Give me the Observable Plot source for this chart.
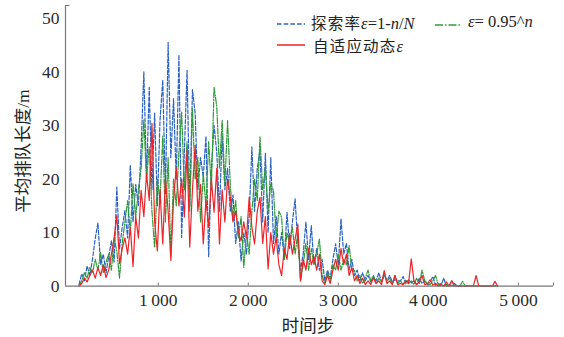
<!DOCTYPE html>
<html><head><meta charset="utf-8">
<script src="https://cdn.jsdelivr.net/npm/d3@7"></script>
<script src="https://cdn.jsdelivr.net/npm/@observablehq/plot@0.6"></script>
<style>
html,body{margin:0;padding:0;background:#fff;}
#wrap{position:relative;width:564px;height:337px;overflow:hidden;font-family:"Liberation Serif","Tinos","Times New Roman","DejaVu Serif",serif;}
#wrap svg, #wrap svg text{font-family:"Liberation Serif","Tinos","Times New Roman","DejaVu Serif",serif !important;font-size:17.5px !important;}
#wrap svg text{fill:#2a2a2a;}
.lab{position:absolute;white-space:nowrap;color:#222;font-size:17.5px;line-height:1;}
.cjk{font-family:"Noto Sans CJK SC",sans-serif;}
.it{font-style:italic;font-family:"Liberation Serif","Tinos","Times New Roman","DejaVu Serif",serif;}
.rm{font-family:"Liberation Serif","Tinos","Times New Roman","DejaVu Serif",serif;}
.leg{position:absolute;white-space:nowrap;line-height:16px;height:16px;color:#222;}
.leg .cjk{font-size:15.5px;letter-spacing:1.2px;}
.leg .it,.leg .rm{font-size:16.5px;}
.sw{position:absolute;}
</style></head>
<body><div id="wrap"></div>
<script>
// time steps (sampling grid of the simulation output)
const steps = d3.range(120, 4771, 30);
// series: queue length (m)
const blueVals = [0.3,2.3,1.0,3.8,2.0,5.0,8.9,11.8,4.0,6.0,2.5,5.5,8.5,4.5,18.5,7.0,11.0,14.1,9.0,22.6,
12.0,19.0,15.0,26.0,40.0,20.0,37.1,18.0,32.3,15.0,31.0,38.5,17.3,45.5,24.0,35.0,20.0,43.2,9.1,25.0,
40.3,15.0,36.7,32.3,18.0,24.0,20.4,28.0,5.5,22.0,30.0,25.0,14.0,28.0,18.0,22.0,14.0,17.0,8.0,12.0,
4.7,10.0,6.0,13.0,26.0,14.0,22.0,25.4,12.0,24.8,10.0,24.0,8.0,13.0,6.0,10.0,5.0,13.8,7.0,12.0,
16.3,8.0,3.0,6.0,12.0,5.0,11.3,4.0,7.0,3.0,5.0,1.0,3.0,1.5,5.0,7.9,4.0,12.6,6.0,8.0,
3.0,5.0,2.0,3.0,1.0,2.5,1.0,2.0,0.8,1.8,1.0,2.5,0.8,2.0,1.0,2.0,0.8,1.2,1.0,1.0,
1.8,0.5,1.2,0.6,1.0,0.3,1.5,0.5,1.0,0.3,0.8,1.8,0.2,0.5,0.1,1.5,0,0.3,0,0.5,
0,0,0,0,0,0,0,0,0,0,0,0,0,0,0,0];
const greenVals = [0,1.0,2.5,1.5,3.5,2.5,5.0,3.0,6.3,2.5,4.5,6.0,3.0,9.0,6.5,1.5,8.0,12.0,16.0,10.0,
19.1,13.0,18.0,22.0,31.0,20.0,26.0,14.0,7.2,20.0,16.0,28.0,12.0,24.0,5.8,20.0,15.0,25.0,32.5,18.0,
27.0,14.0,33.2,20.0,24.0,12.0,21.0,15.0,27.0,18.0,37.1,33.6,22.0,31.0,19.0,30.9,19.0,12.3,16.0,9.0,
13.0,3.5,10.0,6.0,14.0,20.0,16.0,27.9,18.0,22.0,14.0,19.0,17.9,9.0,14.0,12.9,5.0,10.0,8.0,11.0,
6.0,10.0,1.0,4.0,8.0,3.0,7.0,4.0,6.0,8.8,2.0,0.5,2.5,1.0,4.0,3.0,6.0,3.0,5.0,4.0,
7.6,3.0,2.9,1.0,2.0,0.5,1.5,3.0,1.0,2.0,0.5,1.5,0.8,2.5,1.0,1.5,0.5,2.0,0.5,1.0,
0.3,1.2,0.5,1.0,0.3,1.5,0.5,3.0,1.0,0.5,0.3,1.0,2.0,0.3,0.5,0,0.3,0,1.0,0,
0,0,0.9,0,0,0,0,0,0,0,0,0,0,0,0,0];
const redVals = [0,0.5,1.5,0.8,2.0,3.0,1.5,3.5,2.0,4.0,1.6,3.0,6.0,9.0,13.2,4.2,7.0,9.0,6.0,11.0,
3.7,13.0,9.0,17.9,13.0,21.0,16.0,30.4,12.0,6.6,18.0,7.9,20.0,14.0,4.8,16.0,22.2,15.0,20.0,12.9,
25.5,7.3,18.0,26.3,14.0,19.0,7.9,16.0,11.0,20.0,13.8,22.0,7.9,18.0,12.0,20.0,16.6,12.0,14.0,10.0,
8.5,12.0,9.0,16.6,11.0,7.9,14.0,16.6,8.0,13.0,3.2,10.0,6.0,9.1,4.0,2.0,7.0,5.0,9.8,6.0,
8.8,11.6,1.0,5.0,3.0,7.0,4.0,5.5,3.0,6.0,1.0,0.3,2.0,0.5,3.0,5.0,3.0,7.0,4.0,6.0,
2.0,3.5,1.0,2.0,0.5,1.5,0.3,1.0,0.3,1.5,0.5,1.0,0.3,2.9,0.5,1.0,0.3,2.0,0.3,0.5,
0.3,1.0,0.5,5.1,1.0,0.3,0.8,2.0,0.3,0.5,1.2,0.2,0.5,0,0.3,0,0.8,0,1.0,0,
0,0,0,0,0,0,0,2.0,0,0,0,0,0,0,0.9,0];
const xTicks = [1000, 2000, 3000, 4000, 5000];
const yTicks = [0, 10, 20, 30, 40, 50];
const colors = ["#2a63c2", "#2f9a38", "#ee2328"];

const toRows = vals => steps.map((t, i) => ({t, v: vals[i]}));
const blue = toRows(blueVals), green = toRows(greenVals), red = toRows(redVals);
const fmt = d => d >= 1000 ? d3.format(",")(d).replace(",", "\u2009") : String(d);

const chart = Plot.plot({
  width: 564, height: 337,
  marginLeft: 65, marginRight: 11, marginTop: 5, marginBottom: 51.3,
  style: "font-family: 'Liberation Serif', 'Times New Roman', serif; font-size: 17.5px; color: #2a2a2a; background: transparent;",
  x: {domain: [-30, 5390]},
  y: {domain: [0, 52.4]},
  marks: [
    Plot.line(blue, {x: "t", y: "v", stroke: colors[0], strokeWidth: 1.2, strokeDasharray: "4,1.8"}),
    Plot.line(green, {x: "t", y: "v", stroke: colors[1], strokeWidth: 1.2, strokeDasharray: "6,1.5,1.2,1.5"}),
    Plot.line(red, {x: "t", y: "v", stroke: colors[2], strokeWidth: 1.2}),
    Plot.ruleY([0], {stroke: "#777", strokeWidth: 1.2}),
    Plot.ruleX([-30], {stroke: "#777", strokeWidth: 1.2}),
    Plot.ruleY([52.4], {x1: -30, x2: 20, stroke: "#777"}),
    Plot.ruleX(xTicks.concat([5390]), {y1: 0, y2: 0.6, stroke: "#777"}),
    Plot.axisX({ticks: xTicks, tickSize: 0, tickPadding: 7, tickFormat: fmt, label: null}),
    Plot.axisY({ticks: yTicks, tickSize: 0, tickPadding: 6, label: null})
  ]
});
const wrap = document.getElementById("wrap");
wrap.appendChild(chart);

function add(html, cls, style) {
  const d = document.createElement("div");
  d.className = cls; d.innerHTML = html; d.setAttribute("style", style);
  wrap.appendChild(d);
}
// axis titles
add('<span class="cjk">平均排队长度</span><span class="rm">/m</span>', "lab", "left:23px;top:151px;transform:translate(-50%,-50%) rotate(-90deg);");
add('<span class="cjk">时间步</span>', "lab", "left:308px;top:326px;transform:translate(-50%,-50%);");
// legend
function swatch(x, y, w, color, dash) {
  add(`<svg width="${w}" height="4"><line x1="0" y1="2" x2="${w}" y2="2" stroke="${color}" stroke-width="1.5" ${dash ? `stroke-dasharray="${dash}"` : ""}/></svg>`,
      "sw", `left:${x}px;top:${y - 2}px;line-height:0;`);
}
swatch(277, 23, 28, colors[0], "4.5,2.2");
swatch(435, 23.5, 27, colors[1], "8,2,1.5,2");
swatch(277, 44, 28, colors[2], null);
add('<span class="cjk">探索率</span><span class="it">ε</span><span class="rm">=1-</span><span class="it">n</span><span class="rm">/</span><span class="it">N</span>', "leg", "left:311px;top:14px;");
add('<span class="it">ε</span><span class="rm">= 0.95^</span><span class="it">n</span>', "leg", "left:468px;top:14px;");
add('<span class="cjk">自适应动态</span><span class="it">ε</span>', "leg", "left:313px;top:36.5px;");
</script></body></html>
